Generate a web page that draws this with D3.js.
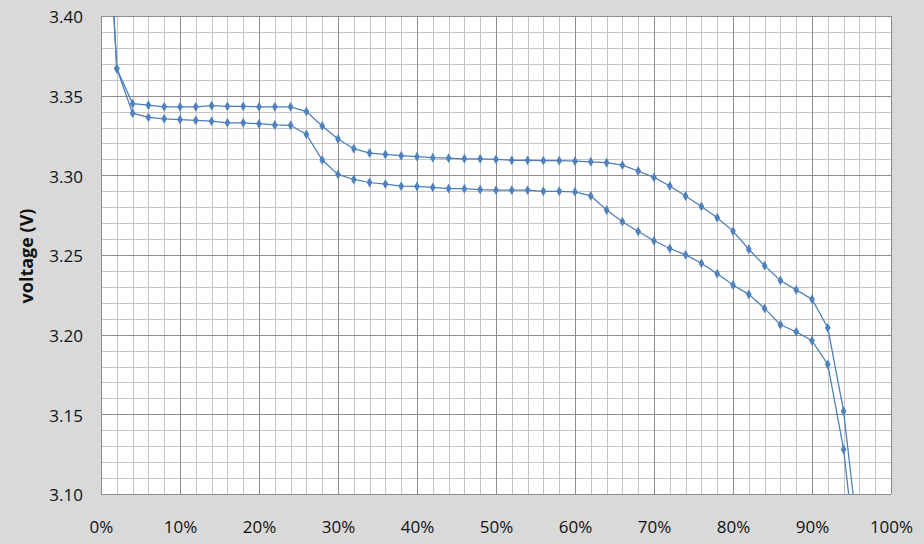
<!DOCTYPE html>
<html><head><meta charset="utf-8">
<script src="https://cdn.jsdelivr.net/npm/d3@7"></script>
<style>html,body{margin:0;padding:0;background:#d9d9d9;}svg{display:block;}</style>
</head><body>
<svg id="c" width="924" height="544"></svg>
<script>
const soc = [0,2,4,6,8,10,12,14,16,18,20,22,24,26,28,30,32,34,36,38,40,42,44,46,48,50,52,54,56,58,60,62,64,66,68,70,72,74,76,78,80,82,84,86,88,90,92,94,96];
const upperV = [3.55,3.367,3.345,3.344,3.343,3.343,3.343,3.3437,3.3433,3.3433,3.343,3.343,3.343,3.340,3.331,3.3228,3.3167,3.314,3.3131,3.3123,3.3117,3.3111,3.3108,3.3104,3.3104,3.310,3.3094,3.3094,3.3092,3.3092,3.3089,3.3085,3.3079,3.3064,3.3027,3.2987,3.2933,3.287,3.2805,3.2734,3.265,3.2536,3.2433,3.234,3.2281,3.2223,3.2043,3.152,3.065];
const lowerV = [3.55,3.367,3.339,3.3364,3.3355,3.335,3.3345,3.334,3.333,3.333,3.3324,3.3316,3.3314,3.3257,3.3096,3.3006,3.2974,3.2955,3.2945,3.2932,3.293,3.2924,3.2917,3.2916,3.291,3.2907,3.2907,3.2907,3.290,3.290,3.2896,3.2871,3.2782,3.2709,3.2648,3.2589,3.2541,3.2501,3.2448,3.2383,3.2312,3.2253,3.2165,3.2062,3.2018,3.1962,3.1813,3.128,3.04];
const xTicks = [0,10,20,30,40,50,60,70,80,90,100];
const yTicks = [3.10,3.15,3.20,3.25,3.30,3.35,3.40];
const yTitle = "voltage (V)";

const svg = d3.select("#c");
const L = 101, R = 891, T = 16, B = 494;
const x = d3.scaleLinear().domain([0,100]).range([L,R]);
const y = d3.scaleLinear().domain([3.10,3.40]).range([B,T]);
const FONT = "'Open Sans', 'Liberation Sans', sans-serif";

svg.append("rect").attr("x",L).attr("y",T).attr("width",R-L).attr("height",B-T).attr("fill","#fff");

const g = svg.append("g");
const xMinor = d3.range(0,101,2).filter(v=>v%10!==0);
const yMinor = d3.range(310,341,1).map(v=>v/100).filter(v=>Math.round(v*100)%5!==0);
g.selectAll(".xm").data(xMinor).join("line")
  .attr("x1",d=>Math.round(x(d))+0.5).attr("x2",d=>Math.round(x(d))+0.5).attr("y1",T).attr("y2",B)
  .attr("stroke","#c4c4c4").attr("stroke-width",1);
g.selectAll(".ym").data(yMinor).join("line")
  .attr("y1",d=>Math.round(y(d))+0.5).attr("y2",d=>Math.round(y(d))+0.5).attr("x1",L).attr("x2",R)
  .attr("stroke","#c4c4c4").attr("stroke-width",1);
g.selectAll(".xM").data(xTicks).join("line")
  .attr("x1",d=>Math.round(x(d))+0.5).attr("x2",d=>Math.round(x(d))+0.5).attr("y1",T).attr("y2",B)
  .attr("stroke","#8c8c8c").attr("stroke-width",1);
g.selectAll(".yM").data(yTicks).join("line")
  .attr("y1",d=>Math.round(y(d))+0.5).attr("y2",d=>Math.round(y(d))+0.5).attr("x1",L).attr("x2",R)
  .attr("stroke","#8c8c8c").attr("stroke-width",1);

const ax = svg.append("g").attr("transform",`translate(0,${B})`)
  .call(d3.axisBottom(x).tickValues(xTicks).tickFormat(d=>d+"%").tickSize(0).tickPadding(27));
const ay = svg.append("g").attr("transform",`translate(${L},1.5)`)
  .call(d3.axisLeft(y).tickValues(yTicks).tickFormat(d3.format(".2f")).tickSize(0).tickPadding(18));
[ax,ay].forEach(a=>{
  a.select(".domain").remove();
  a.selectAll("text").attr("font-family",FONT).attr("font-size",17).attr("fill","#111");
});

svg.append("text").attr("transform",`translate(33,${(T+B)/2 + 1}) rotate(-90)`)
  .attr("text-anchor","middle").attr("font-family",FONT)
  .attr("font-weight","bold").attr("font-size",18).attr("fill","#111").text(yTitle);

svg.append("clipPath").attr("id","clip").append("rect").attr("x",L).attr("y",T).attr("width",R-L).attr("height",B-T);
const plot = svg.append("g").attr("clip-path","url(#clip)");
const line = d3.line().x(d=>x(d[0])).y(d=>y(d[1]));
const diamond = d3.symbol().type(d3.symbolDiamond).size(28);
[upperV, lowerV].forEach(vals=>{
  const pts = soc.map((s,i)=>[s, vals[i]]);
  plot.append("path").datum(pts).attr("d",line).attr("fill","none").attr("stroke","#4a7ebb").attr("stroke-width",1.25);
  plot.selectAll(null).data(pts.filter(p=>p[0]>0 && p[0]<96)).join("path")
    .attr("d",diamond).attr("transform",d=>`translate(${x(d[0])},${y(d[1])})`).attr("fill","#4f81bd");
});
</script>
</body></html>
